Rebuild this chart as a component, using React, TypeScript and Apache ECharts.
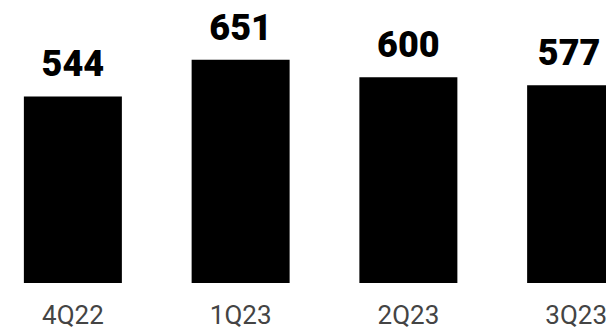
import React, { useEffect, useRef } from "react";
import * as echarts from "echarts";

const categories = ["4Q22", "1Q23", "2Q23", "3Q23"];
const values = [544, 651, 600, 577];
const yMax = 700;

export default function App() {
  const ref = useRef<HTMLDivElement>(null);
  useEffect(() => {
    if (!ref.current) return;
    const chart = echarts.init(ref.current, undefined, { renderer: "svg" });
    chart.setOption({
      animation: false,
      backgroundColor: "#ffffff",
      grid: { left: 0, right: 0, top: 43, bottom: 46, containLabel: false },
      xAxis: {
        type: "category",
        data: categories,
        axisLine: { show: false },
        axisTick: { show: false },
        axisLabel: {
          color: "#444444",
          fontFamily: "Roboto",
          fontSize: 26,
          margin: 19,
        },
      },
      yAxis: {
        type: "value",
        min: 0,
        max: yMax,
        show: false,
        splitLine: { show: false },
      },
      series: [
        {
          type: "bar",
          data: values.map((v, i) =>
            i === values.length - 1 ? { value: v, label: { offset: [-7, 0] } } : v
          ),
          barWidth: 98,
          itemStyle: { color: "#000000" },
          label: {
            show: true,
            position: "top",
            distance: 14,
            color: "#000000",
            fontFamily: "Roboto",
            fontWeight: 900,
            fontSize: 36,
          },
        },
      ],
    });
    return () => chart.dispose();
  }, []);
  return (
    <div
      style={{
        position: "absolute",
        left: 0,
        top: 0,
        width: 606,
        height: 329,
        overflow: "hidden",
        background: "#ffffff",
      }}
    >
      <div
        ref={ref}
        style={{ position: "absolute", left: -11, top: 0, width: 671, height: 329 }}
      />
    </div>
  );
}
